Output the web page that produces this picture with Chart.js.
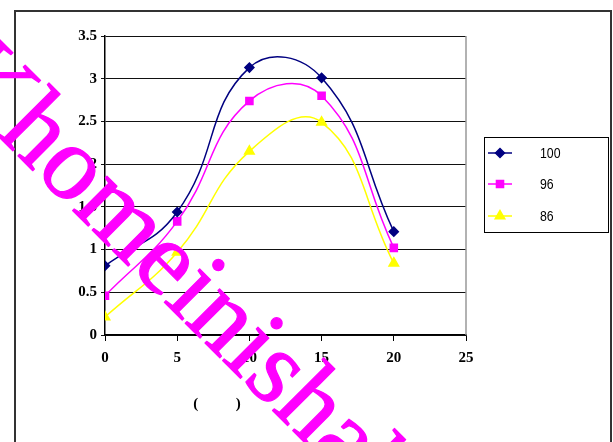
<!DOCTYPE html>
<html>
<head>
<meta charset="utf-8">
<script src="https://cdn.jsdelivr.net/npm/chart.js@4/dist/chart.umd.min.js"></script>
<style>
  html, body { margin: 0; padding: 0; background: #fff; }
  #wrap { width: 613px; height: 442px; }
</style>
</head>
<body>
<div id="wrap"><canvas id="curveChart" width="613" height="442"></canvas></div>
<script>
// Measured points, one array per series
const xValues = [0, 5, 10, 15, 20];
const series100 = [0.81, 1.44, 3.13, 3.01, 1.21];
const series96 = [0.46, 1.33, 2.74, 2.80, 1.02];
const series86 = [0.21, 0.97, 2.15, 2.49, 0.84];
const seriesNames = ['100', '96', '86'];
const xTicks = [0, 5, 10, 15, 20, 25];
const yTicks = [0, 0.5, 1, 1.5, 2, 2.5, 3, 3.5];

const toPoints = (vals) => vals.map((v, i) => ({ x: xValues[i], y: v }));

const tickFont = { family: "'Liberation Serif', 'Times New Roman', serif", size: 15, weight: 'bold' };

// Frame around the whole chart, plot border on the right, hand-drawn legend, axis caption
const decorations = {
    id: 'decorations',
    beforeDraw(chart) {
        const ctx = chart.ctx;
        ctx.save();
        ctx.fillStyle = '#fff';
        ctx.fillRect(0, 0, chart.width, chart.height);
        ctx.strokeStyle = '#333';
        ctx.lineWidth = 2;
        ctx.strokeRect(15, 11, 596, 500);
        ctx.restore();
    },
    afterDatasetsDraw(chart) {
        const ctx = chart.ctx;
        const area = chart.chartArea;
        ctx.save();
        // right edge of the plot area
        ctx.strokeStyle = '#999';
        ctx.lineWidth = 1.5;
        ctx.beginPath();
        ctx.moveTo(area.right, area.top);
        ctx.lineTo(area.right, area.bottom);
        ctx.stroke();

        // legend box
        ctx.strokeStyle = '#000';
        ctx.lineWidth = 1;
        ctx.strokeRect(484.5, 137.5, 124, 95);
        const rows = [153, 184, 216];
        chart.data.datasets.forEach((ds, i) => {
            const y = rows[i];
            ctx.strokeStyle = ds.borderColor;
            ctx.fillStyle = ds.backgroundColor;
            ctx.lineWidth = 1.5;
            ctx.beginPath();
            ctx.moveTo(488, y);
            ctx.lineTo(512, y);
            ctx.stroke();
            Chart.helpers.drawPoint(ctx, {
                pointStyle: ds.pointStyle,
                radius: ds.pointRadius,
                rotation: 0,
                borderWidth: 1
            }, 500, y);
            ctx.fillStyle = '#000';
            ctx.font = "15px 'Liberation Sans Narrow', 'Arial Narrow', 'Liberation Sans', sans-serif";
            ctx.textBaseline = 'middle';
            ctx.textAlign = 'left';
            ctx.save();
            ctx.translate(540, y + 1);
            ctx.scale(0.82, 1);
            ctx.fillText(seriesNames[i], 0, 0);
            ctx.restore();
        });

        // x axis caption
        ctx.fillStyle = '#000';
        ctx.font = "bold 15px 'Liberation Serif', 'Times New Roman', serif";
        ctx.textAlign = 'center';
        ctx.textBaseline = 'middle';
        ctx.fillText('(          )', 217, 404);
        ctx.restore();
    },
    afterDraw(chart) {
        // diagonal watermark
        const ctx = chart.ctx;
        ctx.save();
        ctx.fillStyle = '#ff00ff';
        ctx.strokeStyle = '#ff00ff';
        ctx.lineWidth = 1.2;
        ctx.lineJoin = 'round';
        ctx.font = "106px 'Liberation Serif', 'Times New Roman', serif";
        ctx.textBaseline = 'alphabetic';
        ctx.textAlign = 'left';
        ctx.translate(-58, 80);
        ctx.rotate(Math.PI / 4);
        ctx.fillText('Khomeinishahr', 0, 0);
        ctx.strokeText('Khomeinishahr', 0, 0);
        ctx.restore();
    }
};

const config = {
    type: 'line',
    data: {
        datasets: [
            {
                label: seriesNames[0],
                data: toPoints(series100),
                borderColor: '#000080',
                backgroundColor: '#000080',
                pointStyle: 'rectRot',
                pointRadius: 4.5,
                borderWidth: 1.5,
                tension: 0.45
            },
            {
                label: seriesNames[1],
                data: toPoints(series96),
                borderColor: '#ff00ff',
                backgroundColor: '#ff00ff',
                pointStyle: 'rect',
                pointRadius: 5,
                borderWidth: 1.5,
                tension: 0.45
            },
            {
                label: seriesNames[2],
                data: toPoints(series86),
                borderColor: '#ffff00',
                backgroundColor: '#ffff00',
                pointStyle: 'triangle',
                pointRadius: 5.5,
                borderWidth: 1.5,
                tension: 0.45
            }
        ]
    },
    options: {
        responsive: false,
        animation: false,
        layout: { padding: { left: 55, top: 36, right: 147, bottom: 37 } },
        scales: {
            x: {
                type: 'linear',
                min: 0,
                max: 25,
                afterBuildTicks: (scale) => { scale.ticks = xTicks.map(v => ({ value: v })); },
                afterFit: (scale) => { scale.height = 70; },
                grid: { drawOnChartArea: false, drawTicks: true, tickLength: 6, color: '#000' },
                border: { color: '#000', width: 1.5 },
                ticks: { color: '#000', font: tickFont, padding: 8, maxRotation: 0 }
            },
            y: {
                min: 0,
                max: 3.5,
                afterBuildTicks: (scale) => { scale.ticks = yTicks.map(v => ({ value: v })); },
                afterFit: (scale) => { scale.width = 50; },
                grid: { color: '#111', lineWidth: 1, drawTicks: true, tickLength: 4 },
                border: { color: '#000', width: 1.5 },
                ticks: { color: '#000', font: tickFont, padding: 4, callback: (v) => String(v) }
            }
        },
        plugins: {
            legend: { display: false },
            tooltip: { enabled: false }
        }
    },
    plugins: [decorations]
};

const curveChart = new Chart(document.getElementById('curveChart'), config);
</script>
</body>
</html>
